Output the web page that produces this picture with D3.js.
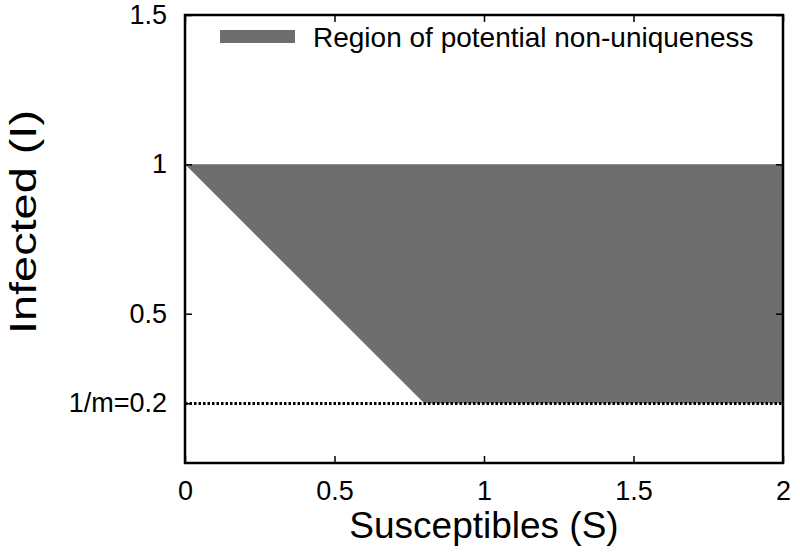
<!DOCTYPE html>
<html>
<head>
<meta charset="utf-8">
<script src="https://cdn.jsdelivr.net/npm/d3@7"></script>
<style>
  body { margin: 0; background: #fff; }
  text { font-family: "Liberation Sans", Arial, sans-serif; fill: #000; }
</style>
</head>
<body>
<div id="chart"></div>
<script>
// datos del gráfico
const regionS = [0, 2, 2, 0.8];
const regionI = [1, 1, 0.2, 0.2];
const thresholdI = 0.2;
const xTicks = [0, 0.5, 1, 1.5, 2];
const yTicks = [0.2, 0.5, 1, 1.5];
const yTickLabels = ['1/m=0.2', '0.5', '1', '1.5'];
const legendLabel = 'Region of potential non-uniqueness';

const W = 800, H = 560;
const margin = { top: 15, right: 17, bottom: 97, left: 185 };
const width = W - margin.left - margin.right;
const height = H - margin.top - margin.bottom;

const svg = d3.select('#chart').append('svg')
    .attr('width', W).attr('height', H);
const g = svg.append('g').attr('transform', `translate(${margin.left},${margin.top})`);

const x = d3.scaleLinear().domain([0, 2]).range([0, width]);
const y = d3.scaleLinear().domain([0, 1.5]).range([height, 0]);

// región sombreada
const pts = regionS.map((s, i) => [x(s), y(regionI[i])]);
g.append('path')
    .attr('d', d3.line()(pts) + 'Z')
    .attr('fill', '#6e6e6e');

// línea punteada 1/m
g.append('line')
    .attr('x1', x(0)).attr('x2', x(2))
    .attr('y1', Math.round(y(thresholdI)) + 0.5).attr('y2', Math.round(y(thresholdI)) + 0.5)
    .attr('stroke', '#000').attr('stroke-width', 3)
    .attr('stroke-dasharray', '2.5,2');

// ejes (ticks hacia dentro)
const tl = 7;
const xAxis = g.append('g').attr('transform', `translate(0,${height})`)
    .call(d3.axisBottom(x).tickValues(xTicks).tickSize(-tl).tickPadding(18).tickFormat(d3.format('')));
const xTop = g.append('g')
    .call(d3.axisTop(x).tickValues(xTicks).tickSize(-tl).tickFormat(''));
const yAxis = g.append('g')
    .call(d3.axisLeft(y).tickValues(yTicks).tickSize(-tl).tickPadding(18)
        .tickFormat((d, i) => yTickLabels[i]));
const yRight = g.append('g').attr('transform', `translate(${width},0)`)
    .call(d3.axisRight(y).tickValues(yTicks.filter(v => v !== 0.2)).tickSize(-tl).tickFormat(''));

[xAxis, xTop, yAxis, yRight].forEach(a => {
    a.select('.domain').remove();
    a.selectAll('line').attr('stroke', '#000').attr('stroke-width', 1.5);
    a.selectAll('text').style('font-size', '27px');
});

// marco
g.append('rect')
    .attr('width', width).attr('height', height)
    .attr('fill', 'none').attr('stroke', '#000').attr('stroke-width', 2.5);

// títulos de ejes
svg.append('text')
    .attr('x', margin.left + width / 2).attr('y', 538)
    .attr('text-anchor', 'middle').style('font-size', '37px')
    .text('Susceptibles (S)');
svg.append('text')
    .attr('transform', 'translate(36,222) rotate(-90)')
    .attr('text-anchor', 'middle').style('font-size', '36px')
    .attr('textLength', 224).attr('lengthAdjust', 'spacingAndGlyphs')
    .text('Infected (I)');

// leyenda
const lg = svg.append('g');
lg.append('rect')
    .attr('x', 220).attr('y', 30).attr('width', 75).attr('height', 13)
    .attr('fill', '#6e6e6e');
lg.append('text')
    .attr('x', 313).attr('y', 47)
    .style('font-size', '28px')
    .text(legendLabel);
</script>
</body>
</html>
